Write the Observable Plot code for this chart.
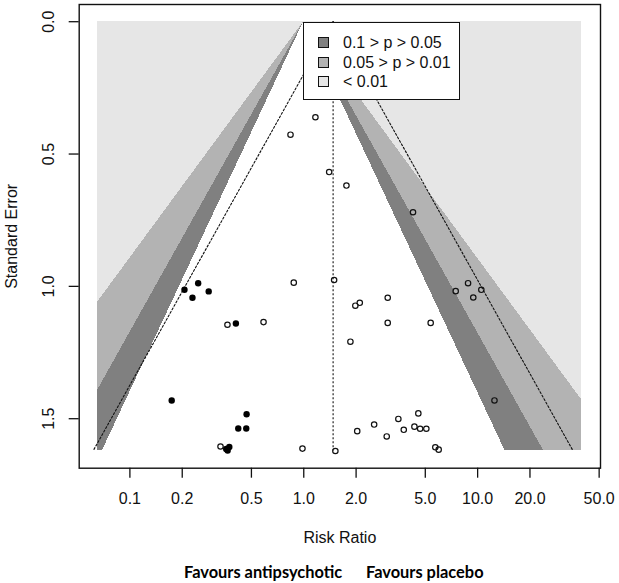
<!DOCTYPE html>
<html>
<head>
<meta charset="utf-8">
<script src="https://cdn.jsdelivr.net/npm/d3@7"></script>
<script src="https://cdn.jsdelivr.net/npm/@observablehq/plot@0.6"></script>
<style>
  html, body { margin: 0; padding: 0; background: #fff; }
  #wrap { position: relative; width: 619px; height: 583px; font-family: "Liberation Sans", Arial, sans-serif; }
  #legend { position: absolute; left: 303px; top: 22px; width: 155px; height: 76px; border: 1.3px solid #111; background: #fff; }
  .lrow { position: absolute; left: 0; font-size: 16px; line-height: 16px; color: #111; }
  .lsw { position: absolute; left: 14px; width: 9px; height: 9px; border: 1px solid #111; }
  .ltx { position: absolute; left: 39px; white-space: nowrap; }
  .cap { position: absolute; top: 562px; font-family: Lato, "Open Sans", sans-serif; font-weight: 700; font-size: 16.4px; color: #000; white-space: nowrap; }
</style>
</head>
<body>
<div id="wrap"></div>
<script>
// ---- data ----
const openRR = [1.167, 0.839, 1.40, 1.76, 4.25, 0.876, 1.495, 8.81, 7.48, 10.5, 9.44, 3.04, 2.10, 1.98, 3.04, 5.37, 1.855, 0.364, 0.587,
                12.5, 4.56, 3.50, 2.54, 2.03, 3.00, 3.76, 4.33, 4.67, 5.07, 5.71, 5.97, 1.52, 0.332, 0.983];
const openSE = [0.361, 0.427, 0.568, 0.619, 0.720, 0.986, 0.976, 0.988, 1.018, 1.013, 1.042, 1.043, 1.062, 1.073, 1.138, 1.138, 1.209, 1.145, 1.135,
                1.431, 1.480, 1.501, 1.522, 1.547, 1.567, 1.542, 1.530, 1.538, 1.538, 1.608, 1.617, 1.622, 1.605, 1.613];
const filledRR = [0.206, 0.247, 0.229, 0.284, 0.407, 0.174, 0.469, 0.420, 0.467, 0.358, 0.373, 0.365];
const filledSE = [1.013, 0.988, 1.043, 1.019, 1.140, 1.431, 1.483, 1.537, 1.537, 1.614, 1.607, 1.620];
const pooledRR = 1.475;
const seMax = 1.622;
const rrMin = 0.065, rrMax = 39.7;
const contourZ = [2.576, 1.96, 1.645];
const contourFill = ["#b3b3b3", "#808080", "#ffffff"];
const backFill = "#e6e6e6";
const ciZ = 1.96;
const legendLabels = ["0.1 > p > 0.05", "0.05 > p > 0.01", "< 0.01"];
const legendFill = ["#808080", "#b3b3b3", "#e6e6e6"];
const xTicks = [0.1, 0.2, 0.5, 1, 2, 5, 10, 20, 50];
const xTickLabels = ["0.1", "0.2", "0.5", "1.0", "2.0", "5.0", "10.0", "20.0", "50.0"];
const yTicks = [0, 0.5, 1, 1.5];
const yTickLabels = ["0.0", "0.5", "1.0", "1.5"];

// ---- derived tables ----
const openPts = openRR.map((r, i) => ({rr: r, se: openSE[i]}));
const filledPts = filledRR.map((r, i) => ({rr: r, se: filledSE[i]}));

function band(z) {
  const s = new Set([0, seMax]);
  for (const zz of contourZ) {
    const a = Math.log(rrMax) / zz, b = -Math.log(rrMin) / zz;
    if (a < seMax) s.add(a);
    if (b < seMax) s.add(b);
  }
  return [...s].sort((a, b) => a - b).map(se => ({
    se,
    lo: Math.max(Math.exp(-z * se), rrMin),
    hi: Math.min(Math.exp(z * se), rrMax)
  }));
}
const ciLeft = [{rr: pooledRR, se: 0}, {rr: pooledRR * Math.exp(-ciZ * seMax), se: seMax}];
const ciRight = [{rr: pooledRR, se: 0}, {rr: pooledRR * Math.exp(ciZ * seMax), se: seMax}];

const W = 619, H = 552;
const chart = Plot.plot({
  width: W, height: H,
  marginLeft: 78.7, marginRight: 19, marginTop: 4, marginBottom: H - 467.7,
  style: {fontFamily: "'Liberation Sans', Arial, sans-serif", fontSize: "16px", color: "#111", background: "#fff"},
  x: {type: "log", domain: [0.0511, 50.9]},
  y: {domain: [-0.065, 1.687], reverse: true},
  marks: [
    Plot.rect([{x1: rrMin, x2: rrMax, y1: 0, y2: seMax}], {x1: "x1", x2: "x2", y1: "y1", y2: "y2", fill: backFill, shapeRendering: "crispEdges"}),
    ...contourZ.map((z, i) => Plot.areaX(band(z), {y: "se", x1: "lo", x2: "hi", fill: contourFill[i], shapeRendering: "crispEdges"})),
    Plot.ruleX([pooledRR], {y1: 0, y2: seMax, stroke: "#111", strokeWidth: 1.1, strokeDasharray: "2,2"}),
    Plot.line(ciLeft, {x: "rr", y: "se", stroke: "#111", strokeWidth: 1.1, strokeDasharray: "2,2"}),
    Plot.line(ciRight, {x: "rr", y: "se", stroke: "#111", strokeWidth: 1.1, strokeDasharray: "2,2"}),
    Plot.dot(openPts, {x: "rr", y: "se", r: 2.7, stroke: "#111", strokeWidth: 1.2, fill: "none"}),
    Plot.dot(filledPts, {x: "rr", y: "se", r: 3.2, fill: "#000", stroke: "none"}),
    Plot.frame({stroke: "#111", strokeWidth: 1.4}),
    Plot.axisX({ticks: xTicks, tickFormat: () => "", tickSize: 10, strokeWidth: 1.3, label: null}),
    Plot.text(xTicks, {x: d => d, text: (d, i) => xTickLabels[i], frameAnchor: "bottom", dy: 30.5, fontSize: 16, textAnchor: "middle", lineAnchor: "middle"}),
    Plot.axisY({ticks: yTicks, tickFormat: () => "", tickSize: 10, strokeWidth: 1.3, label: null}),
    Plot.text(yTicks, {y: d => d, text: (d, i) => yTickLabels[i], frameAnchor: "left", dx: -30.5, rotate: -90, fontSize: 16, textAnchor: "middle", lineAnchor: "middle"}),
    Plot.text(["Risk Ratio"], {frameAnchor: "bottom", dy: 70, fontSize: 16, textAnchor: "middle", lineAnchor: "middle"}),
    Plot.text(["Standard Error"], {frameAnchor: "left", dx: -67.7, rotate: -90, fontSize: 16, textAnchor: "middle", lineAnchor: "middle"})
  ]
});

const wrap = document.getElementById("wrap");
wrap.appendChild(chart);

// legend
const leg = document.createElement("div");
leg.id = "legend";
legendLabels.forEach((lab, i) => {
  const row = document.createElement("div");
  row.className = "lrow";
  row.style.top = (20 + i * 19.7 - 8) + "px";
  row.style.width = "150px";
  row.style.height = "16px";
  const sw = document.createElement("div");
  sw.className = "lsw";
  sw.style.top = "2px";
  sw.style.background = legendFill[i];
  const tx = document.createElement("div");
  tx.className = "ltx";
  tx.textContent = lab;
  row.appendChild(sw); row.appendChild(tx);
  leg.appendChild(row);
});
wrap.appendChild(leg);

// caption
const capL = document.createElement("div");
capL.className = "cap"; capL.style.left = "184px"; capL.textContent = "Favours antipsychotic";
const capR = document.createElement("div");
capR.className = "cap"; capR.style.left = "366px"; capR.textContent = "Favours placebo";
wrap.appendChild(capL); wrap.appendChild(capR);
</script>
</body>
</html>
